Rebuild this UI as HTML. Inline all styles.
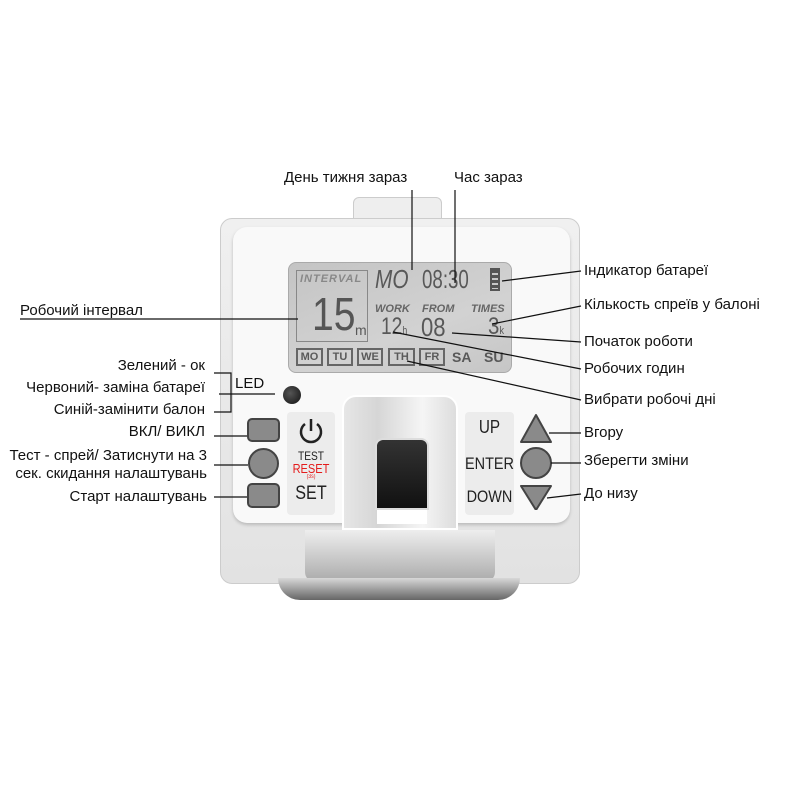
<!DOCTYPE html>
<html><head><meta charset="utf-8"><style>
body{margin:0;width:800px;height:800px;background:#fff;position:relative;overflow:hidden;font-family:"Liberation Sans","DejaVu Sans",sans-serif}
.a{position:absolute}
.t{position:absolute;font-size:15px;color:#111;white-space:nowrap;line-height:16px}
.r{text-align:right}
.lcd{font-family:"Liberation Sans",sans-serif;color:#585858;font-weight:bold;position:absolute;white-space:nowrap;transform-origin:0 0}
.day{position:absolute;top:348px;height:18px;border:2px solid #666;font:bold 11px "Liberation Sans",sans-serif;color:#5a5a5a;line-height:15px;text-align:center;box-sizing:border-box;overflow:hidden}
.btn{position:absolute;background:#8a8a8a;border:2px solid #444;box-sizing:border-box}
.pl{position:absolute;font-family:"Liberation Sans",sans-serif;color:#222;text-align:center;transform:scaleX(0.85)}
</style></head><body>
<div class="a" style="left:353px;top:197px;width:87px;height:30px;background:#eee;border:1px solid #ccc;border-radius:6px 6px 0 0"></div>
<div class="a" style="left:220px;top:218px;width:360px;height:366px;background:linear-gradient(#f0f0f0,#e2e2e2);border:1px solid #ccc;border-radius:12px;box-sizing:border-box"></div>
<div class="a" style="left:305px;top:530px;width:190px;height:52px;background:linear-gradient(#eee,#aaa);border-radius:0 0 10px 10px"></div>
<div class="a" style="left:278px;top:578px;width:242px;height:22px;background:linear-gradient(#d8d8d8,#666);border-radius:0 0 40px 40px"></div>
<div class="a" style="left:233px;top:227px;width:337px;height:296px;background:#f9f9f9;border-radius:14px;box-shadow:0 2px 3px #bbb"></div>
<div class="a" style="left:288px;top:262px;width:224px;height:111px;background:linear-gradient(160deg,#c4c4c4,#d2d2d2 60%,#c6c6c6);border-radius:8px;border:1px solid #aaa;box-sizing:border-box"></div>
<div class="a" style="left:296px;top:270px;width:72px;height:72px;border:1px solid #888;box-sizing:border-box"></div>
<div class="lcd" style="left:300px;top:273px;font-size:11px;font-style:italic;color:#888;letter-spacing:1px">INTERVAL</div>
<div class="lcd" style="left:312px;top:290px;font-size:46px;line-height:48px;font-weight:normal;color:#555;transform:scaleX(0.85)">15</div>
<div class="lcd" style="left:355px;top:322px;font-size:14px;font-weight:normal">m</div>
<div class="lcd" style="left:375px;top:265px;font-size:26px;line-height:28px;font-weight:normal;font-style:italic;transform:scaleX(0.8)">MO</div>
<div class="lcd" style="left:422px;top:265px;font-size:26px;line-height:28px;font-weight:normal;transform:scaleX(0.72)">08:30</div>
<div class="a" style="left:490px;top:268px;width:10px;height:23px;border:2px solid #555;box-sizing:border-box;background:repeating-linear-gradient(#555 0 3px,#c8c8c8 3px 5px)"></div>
<div class="lcd" style="left:375px;top:303px;font-size:11px;font-style:italic;color:#666">WORK</div>
<div class="lcd" style="left:422px;top:303px;font-size:11px;font-style:italic;color:#666">FROM</div>
<div class="lcd" style="left:471px;top:303px;font-size:11px;font-style:italic;color:#666">TIMES</div>
<div class="lcd" style="left:381px;top:314px;font-size:24px;line-height:26px;font-weight:normal;transform:scaleX(0.8)">12<span style="font-size:11px">h</span></div>
<div class="lcd" style="left:421px;top:314px;font-size:26px;line-height:26px;font-weight:normal;transform:scaleX(0.85)">08</div>
<div class="lcd" style="left:488px;top:314px;font-size:24px;line-height:26px;font-weight:normal;transform:scaleX(0.85)">3<span style="font-size:11px">k</span></div>
<div class="day" style="left:296px;width:27px">MO</div>
<div class="day" style="left:327px;width:26px">TU</div>
<div class="day" style="left:357px;width:26px">WE</div>
<div class="day" style="left:388px;width:27px">TH</div>
<div class="day" style="left:419px;width:26px">FR</div>
<div class="lcd" style="left:452px;top:349px;font-size:14px">SA</div>
<div class="lcd" style="left:484px;top:349px;font-size:14px">SU</div>
<div class="a" style="left:283px;top:386px;width:18px;height:18px;border-radius:50%;background:radial-gradient(circle at 40% 40%,#555,#111)"></div>
<div class="a" style="left:287px;top:412px;width:48px;height:103px;background:#ececec;border-radius:4px"></div>
<div class="a" style="left:465px;top:412px;width:49px;height:103px;background:#ececec;border-radius:4px"></div>
<div class="a" style="left:342px;top:395px;width:116px;height:135px;background:linear-gradient(90deg,#e6e6e6,#d6d6d6 30%,#f5f5f5 70%,#ddd);border-radius:14px 14px 0 0;border:2px solid #fff;box-sizing:border-box"></div>
<div class="a" style="left:375px;top:438px;width:50px;height:68px;background:linear-gradient(#333,#111);border-radius:8px 8px 0 0;border:2px solid #ddd"></div>
<div class="a" style="left:377px;top:510px;width:50px;height:14px;background:#fff"></div>
<div class="btn" style="left:247px;top:418px;width:33px;height:24px;border-radius:5px"></div>
<div class="btn" style="left:248px;top:448px;width:31px;height:31px;border-radius:50%"></div>
<div class="btn" style="left:247px;top:483px;width:33px;height:25px;border-radius:5px"></div>
<svg class="a" style="left:296px;top:416px" width="30" height="30" viewBox="0 0 30 30"><path d="M9 8 A10 10 0 1 0 21 8" fill="none" stroke="#222" stroke-width="2.5"/><line x1="15" y1="3" x2="15" y2="15" stroke="#222" stroke-width="2.5"/></svg>
<div class="pl" style="left:287px;top:449px;width:48px;font-size:12px">TEST</div>
<div class="pl" style="left:287px;top:461px;width:48px;font-size:13px;color:#e41b1b">RESET</div>
<div class="pl" style="left:287px;top:474px;width:48px;font-size:6px;color:#e41b1b">(3s)</div>
<div class="pl" style="left:287px;top:483px;width:48px;font-size:19px">SET</div>
<div class="pl" style="left:465px;top:417px;width:49px;font-size:18px">UP</div>
<div class="pl" style="left:460px;top:454px;width:59px;font-size:17px">ENTER</div>
<div class="pl" style="left:460px;top:487px;width:59px;font-size:17px">DOWN</div>
<svg class="a" style="left:518px;top:410px" width="40" height="100" viewBox="0 0 40 100"><polygon points="18,5 33,32 3,32" fill="#8a8a8a" stroke="#444" stroke-width="2" stroke-linejoin="round"/><circle cx="18" cy="53" r="15" fill="#8a8a8a" stroke="#444" stroke-width="2"/><polygon points="3,76 33,76 18,100" fill="#8a8a8a" stroke="#444" stroke-width="2" stroke-linejoin="round"/></svg>
<svg class="a" style="left:0;top:0" width="800" height="800">
<g stroke="#111" stroke-width="1.2" fill="none">
<line x1="412" y1="190" x2="412" y2="270"/>
<line x1="455" y1="190" x2="455" y2="283"/>
<line x1="20" y1="319" x2="298" y2="319"/>
<polyline points="214,373 231,373 231,412 214,412"/>
<line x1="219" y1="394" x2="275" y2="394"/>
<line x1="214" y1="436" x2="247" y2="436"/>
<line x1="214" y1="465" x2="248" y2="465"/>
<line x1="214" y1="497" x2="247" y2="497"/>
<line x1="581" y1="271" x2="502" y2="281"/>
<line x1="581" y1="306" x2="492" y2="324"/>
<line x1="581" y1="342" x2="452" y2="333"/>
<line x1="581" y1="369" x2="393" y2="332"/>
<line x1="581" y1="400" x2="407" y2="361"/>
<line x1="549" y1="433" x2="581" y2="433"/>
<line x1="551" y1="463" x2="581" y2="463"/>
<line x1="547" y1="498" x2="581" y2="494"/>
</g></svg>
<div class="t" style="left:284px;top:170px">День тижня зараз</div>
<div class="t" style="left:454px;top:170px">Час зараз</div>
<div class="t" style="left:20px;top:303px">Робочий інтервал</div>
<div class="t" style="left:235px;top:376px">LED</div>
<div class="t r" style="right:595px;top:358px">Зелений - ок</div>
<div class="t r" style="right:595px;top:380px">Червоний- заміна батареї</div>
<div class="t r" style="right:595px;top:402px">Синій-замінити балон</div>
<div class="t r" style="right:595px;top:424px">ВКЛ/ ВИКЛ</div>
<div class="t r" style="right:593px;top:448px">Тест - спрей/ Затиснути на 3</div>
<div class="t r" style="right:593px;top:466px">сек. скидання налаштувань</div>
<div class="t r" style="right:593px;top:489px">Старт налаштувань</div>
<div class="t" style="left:584px;top:263px">Індикатор батареї</div>
<div class="t" style="left:584px;top:297px">Кількость спреїв у балоні</div>
<div class="t" style="left:584px;top:334px">Початок роботи</div>
<div class="t" style="left:584px;top:361px">Робочих годин</div>
<div class="t" style="left:584px;top:392px">Вибрати робочі дні</div>
<div class="t" style="left:584px;top:425px">Вгору</div>
<div class="t" style="left:584px;top:453px">Зберегти зміни</div>
<div class="t" style="left:584px;top:486px">До низу</div>
</body></html>
